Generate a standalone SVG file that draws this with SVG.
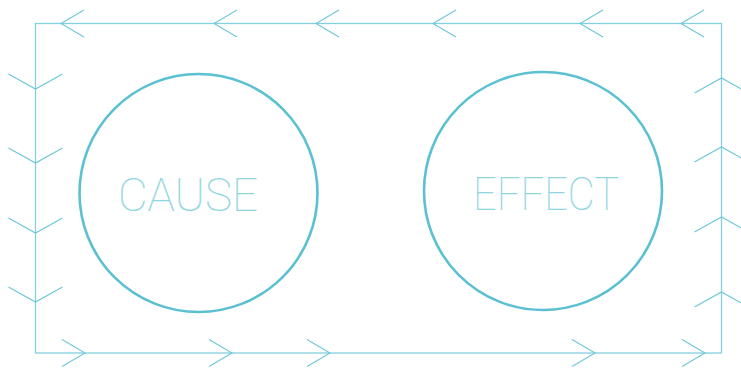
<svg xmlns="http://www.w3.org/2000/svg" xmlns:xlink="http://www.w3.org/1999/xlink" width="741" height="369" viewBox="0 0 741 369">
<style>
.edge{fill:none;stroke:#84d0dd;stroke-width:1.3}
.head{fill:none;stroke:#6cc8d8;stroke-width:1.1}
.circ{fill:none;stroke:#5bc1d2;stroke-width:2.6}
.lbl{font-family:Roboto,"Liberation Sans",sans-serif;font-weight:100;font-size:46px;fill:#8fd6e2;stroke:#8fd6e2;stroke-width:0.15;text-anchor:middle}
</style>
<defs>
<path id="hl" d="M23,-13.5 L0,0 L23,13.5"/>
<path id="hd" d="M-27,-15 L0,0 L27,-15"/>
</defs>
<rect width="741" height="369" fill="#ffffff"/>
<g id="connectors">
<rect class="edge" x="35.5" y="23.5" width="686" height="329.5"/>
<g class="head">
<use xlink:href="#hl" transform="translate(61,23.5)"/>
<use xlink:href="#hl" transform="translate(214,23.5)"/>
<use xlink:href="#hl" transform="translate(316,23.5)"/>
<use xlink:href="#hl" transform="translate(433,23.5)"/>
<use xlink:href="#hl" transform="translate(580,23.5)"/>
<use xlink:href="#hl" transform="translate(681,23.5)"/>
<use xlink:href="#hl" transform="translate(85,353) scale(-1,1)"/>
<use xlink:href="#hl" transform="translate(232,353) scale(-1,1)"/>
<use xlink:href="#hl" transform="translate(330,353) scale(-1,1)"/>
<use xlink:href="#hl" transform="translate(595,353) scale(-1,1)"/>
<use xlink:href="#hl" transform="translate(705,353) scale(-1,1)"/>
<use xlink:href="#hd" transform="translate(35.5,89)"/>
<use xlink:href="#hd" transform="translate(35.5,163)"/>
<use xlink:href="#hd" transform="translate(35.5,233)"/>
<use xlink:href="#hd" transform="translate(35.5,302)"/>
<use xlink:href="#hd" transform="translate(721.5,78) scale(1,-1)"/>
<use xlink:href="#hd" transform="translate(721.5,147) scale(1,-1)"/>
<use xlink:href="#hd" transform="translate(721.5,217) scale(1,-1)"/>
<use xlink:href="#hd" transform="translate(721.5,292) scale(1,-1)"/>
</g>
</g>
<g id="cause">
<circle class="circ" cx="198.5" cy="193" r="119"/>
<text class="lbl" x="188" y="211" textLength="140" lengthAdjust="spacingAndGlyphs">CAUSE</text>
</g>
<g id="effect">
<circle class="circ" cx="543" cy="191" r="119"/>
<text class="lbl" x="546" y="210" textLength="146" lengthAdjust="spacingAndGlyphs">EFFECT</text>
</g>
</svg>
